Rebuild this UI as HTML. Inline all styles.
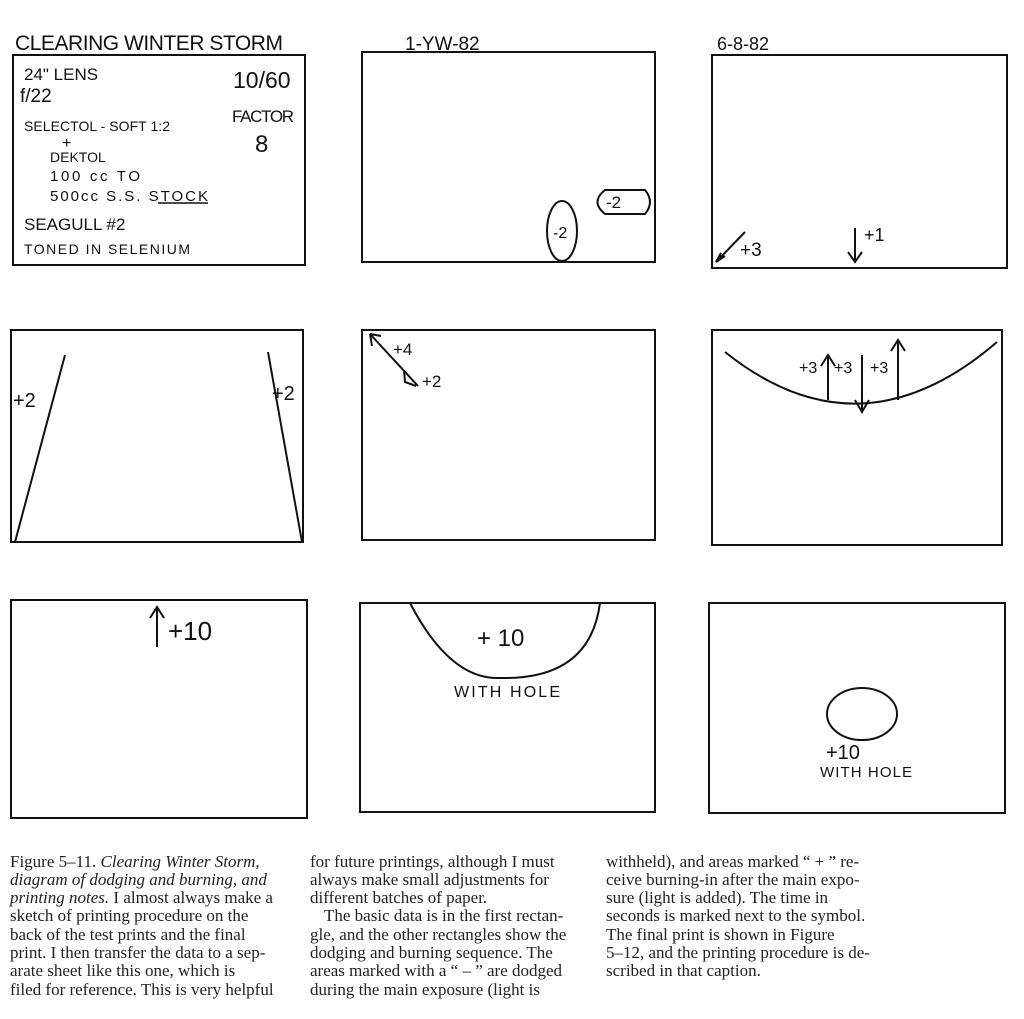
<!DOCTYPE html>
<html><head><meta charset="utf-8"><style>
html,body{margin:0;padding:0;background:#fff;}
svg{display:block}
.h{font-family:"Liberation Sans",sans-serif;fill:#111;}
.c{font-family:"Liberation Serif",serif;font-size:17px;fill:#222;}
</style></head><body>
<svg width="1024" height="1019" viewBox="0 0 1024 1019" xmlns="http://www.w3.org/2000/svg">
<g fill="none" stroke="#111" stroke-width="2">
<rect x="13" y="55" width="292" height="210"/>
<rect x="362" y="52" width="293" height="210"/>
<rect x="712" y="55" width="295" height="213"/>
<rect x="11" y="330" width="292" height="212"/>
<rect x="362" y="330" width="293" height="210"/>
<rect x="712" y="330" width="290" height="215"/>
<rect x="11" y="600" width="296" height="218"/>
<rect x="360" y="603" width="295" height="209"/>
<rect x="709" y="603" width="296" height="210"/>
<line x1="158" y1="203" x2="208" y2="203" stroke-width="1.5"/>
<ellipse cx="562" cy="231" rx="15" ry="30"/>
<path d="M605 190 Q590 202 605 214 L645 214 Q655 202 645 190 Z" />
<path d="M745 232 L716 262 M716 262 L725 256 M716 262 L721 253"/>
<path d="M855 228 L855 262 M848 252 L855 262 L862 252"/>
<path d="M65 355 L15 542 M268 352 L302 542"/>
<path d="M370 334 L418 386 M370 334 L372 346 M370 334 L381 336 M404 370 L405 382 L416 386"/>
<path d="M725 352 Q860 460 997 342"/>
<path d="M828 400 L828 355 M821 366 L828 355 L835 366"/>
<path d="M862 355 L862 412 M855 400 L862 412 L869 400"/>
<path d="M898 400 L898 340 M891 351 L898 340 L905 351"/>
<path d="M157 647 L157 607 M150 618 L157 607 L164 618"/>
<path d="M410 603 Q450 680 500 678 Q590 680 600 603"/>
<ellipse cx="862" cy="714" rx="35" ry="26"/>
</g>
<g class="h">
<text x="15" y="50" font-size="21" textLength="268">CLEARING WINTER STORM</text>
<text x="24" y="80" font-size="17">24" LENS</text>
<text x="20" y="102" font-size="19">f/22</text>
<text x="24" y="131" font-size="14" textLength="146">SELECTOL - SOFT 1:2</text>
<text x="62" y="148" font-size="16">+</text>
<text x="50" y="162" font-size="14">DEKTOL</text>
<text x="50" y="181" font-size="15" textLength="90">100 cc  TO</text>
<text x="50" y="201" font-size="15" textLength="158">500cc S.S. STOCK</text>
<text x="24" y="230" font-size="17">SEAGULL #2</text>
<text x="24" y="254" font-size="14" textLength="166">TONED IN SELENIUM</text>
<text x="233" y="88" font-size="23">10/60</text>
<text x="232" y="122" font-size="17" textLength="62">FACTOR</text>
<text x="255" y="152" font-size="24">8</text>
<text x="405" y="50" font-size="19">1-YW-82</text>
<text x="717" y="50" font-size="18">6-8-82</text>
<text x="606" y="208" font-size="17">-2</text>
<text x="553" y="238" font-size="16">-2</text>
<text x="740" y="256" font-size="19">+3</text>
<text x="864" y="241" font-size="18">+1</text>
<text x="13" y="407" font-size="20">+2</text>
<text x="272" y="400" font-size="20">+2</text>
<text x="393" y="355" font-size="17">+4</text>
<text x="422" y="387" font-size="17">+2</text>
<text x="799" y="373" font-size="16">+3</text>
<text x="834" y="373" font-size="16">+3</text>
<text x="870" y="373" font-size="16">+3</text>
<text x="168" y="640" font-size="26">+10</text>
<text x="477" y="646" font-size="24">+ 10</text>
<text x="454" y="697" font-size="16" textLength="106">WITH HOLE</text>
<text x="826" y="759" font-size="20">+10</text>
<text x="820" y="777" font-size="15" textLength="92">WITH HOLE</text>
</g>
<g class="c">
<text x="10" y="867">Figure 5–11. <tspan font-style="italic">Clearing Winter Storm,</tspan></text>
<text x="10" y="885" font-style="italic">diagram of dodging and burning, and</text>
<text x="10" y="903"><tspan font-style="italic">printing notes.</tspan> I almost always make a</text>
<text x="10" y="921">sketch of printing procedure on the</text>
<text x="10" y="940">back of the test prints and the final</text>
<text x="10" y="958">print. I then transfer the data to a sep-</text>
<text x="10" y="976">arate sheet like this one, which is</text>
<text x="10" y="995">filed for reference. This is very helpful</text>
<text x="310" y="867">for future printings, although I must</text>
<text x="310" y="885">always make small adjustments for</text>
<text x="310" y="903">different batches of paper.</text>
<text x="324" y="921">The basic data is in the first rectan-</text>
<text x="310" y="940">gle, and the other rectangles show the</text>
<text x="310" y="958">dodging and burning sequence. The</text>
<text x="310" y="976">areas marked with a “ – ” are dodged</text>
<text x="310" y="995">during the main exposure (light is</text>
<text x="606" y="867">withheld), and areas marked “ + ” re-</text>
<text x="606" y="885">ceive burning-in after the main expo-</text>
<text x="606" y="903">sure (light is added). The time in</text>
<text x="606" y="921">seconds is marked next to the symbol.</text>
<text x="606" y="940">The final print is shown in Figure</text>
<text x="606" y="958">5–12, and the printing procedure is de-</text>
<text x="606" y="976">scribed in that caption.</text>
</g>
</svg>
</body></html>
